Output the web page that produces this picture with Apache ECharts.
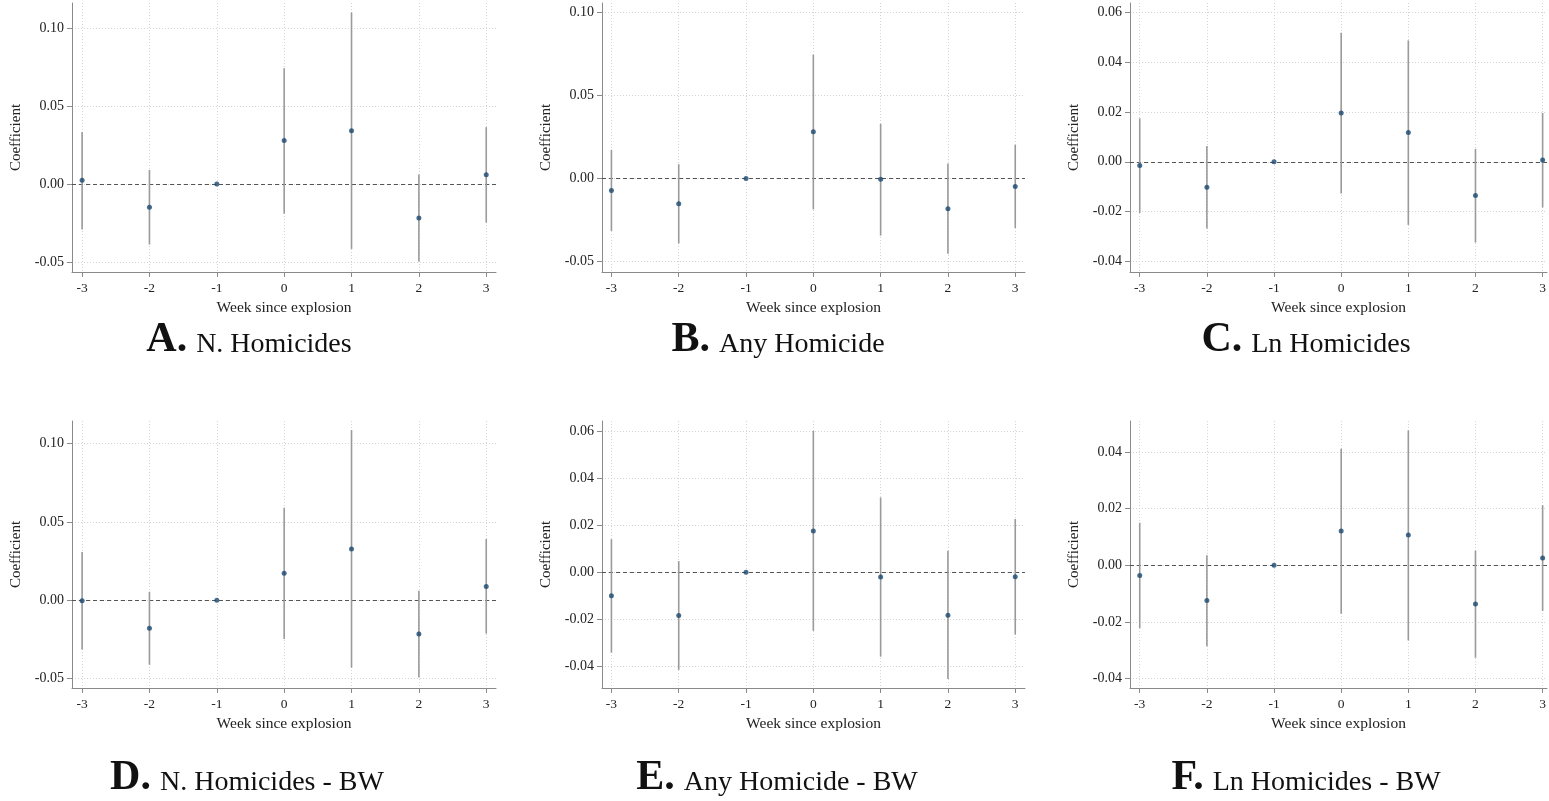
<!DOCTYPE html>
<html>
<head>
<meta charset="utf-8">
<script src="https://cdn.jsdelivr.net/npm/echarts@6/dist/echarts.min.js"></script>
<style>
html,body{margin:0;padding:0;background:#fff;}
#c{width:1549px;height:801px;}
</style>
</head>
<body>
<div id="c"></div>
<script>
// ---- data ----
const weeks = [-3, -2, -1, 0, 1, 2, 3];

const coefA = [0.0024, -0.0148, 0, 0.0279, 0.0341, -0.0217, 0.0060];
const loA   = [-0.0292, -0.0388, 0, -0.0191, -0.0416, -0.0496, -0.0247];
const hiA   = [0.0333, 0.0090, 0, 0.0742, 0.1100, 0.0062, 0.0365];

const coefB = [-0.0072, -0.0151, 0, 0.0281, -0.0004, -0.0181, -0.0048];
const loB   = [-0.0315, -0.0390, 0, -0.0185, -0.0343, -0.0452, -0.0297];
const hiB   = [0.0173, 0.0086, 0, 0.0745, 0.0329, 0.0090, 0.0203];

const coefC = [-0.0015, -0.0102, 0, 0.0196, 0.0118, -0.0135, 0.0007];
const loC   = [-0.0205, -0.0268, 0, -0.0127, -0.0253, -0.0324, -0.0183];
const hiC   = [0.0174, 0.0063, 0, 0.0518, 0.0487, 0.0052, 0.0196];

const coefD = [-0.0002, -0.0178, 0, 0.0173, 0.0327, -0.0214, 0.0089];
const loD   = [-0.0314, -0.0410, 0, -0.0246, -0.0429, -0.0492, -0.0212];
const hiD   = [0.0308, 0.0055, 0, 0.0590, 0.1086, 0.0062, 0.0391];

const coefE = [-0.0100, -0.0184, 0, 0.0175, -0.0021, -0.0183, -0.0020];
const loE   = [-0.0342, -0.0415, 0, -0.0249, -0.0359, -0.0454, -0.0265];
const hiE   = [0.0140, 0.0047, 0, 0.0600, 0.0317, 0.0091, 0.0226];

const coefF = [-0.0036, -0.0124, 0, 0.0121, 0.0107, -0.0137, 0.0026];
const loF   = [-0.0222, -0.0286, 0, -0.0171, -0.0265, -0.0326, -0.0161];
const hiF   = [0.0150, 0.0035, 0, 0.0411, 0.0476, 0.0052, 0.0212];

const yTicksWide = [-0.05, 0, 0.05, 0.10];
const yTicksC = [-0.04, -0.02, 0, 0.02, 0.04, 0.06];
const yTicksE = [-0.04, -0.02, 0, 0.02, 0.04, 0.06];
const yTicksF = [-0.04, -0.02, 0, 0.02, 0.04];

const letters = ['A.', 'B.', 'C.', 'D.', 'E.', 'F.'];
const captions = ['N. Homicides', 'Any Homicide', 'Ln Homicides',
                  'N. Homicides - BW', 'Any Homicide - BW', 'Ln Homicides - BW'];

const xTitle = 'Week since explosion';
const yTitle = 'Coefficient';

// ---- panels ----
const panels = [
  {coef: coefA, lo: loA, hi: hiA, ticks: yTicksWide, ymin: -0.0564, ymax: 0.1161, xmin: -3.15, xmax: 3.145,
   grid: {left: 72, top: 3, width: 424, height: 269}, cap: [249, 361]},
  {coef: coefB, lo: loB, hi: hiB, ticks: yTicksWide, ymin: -0.0562, ymax: 0.1056, xmin: -3.14, xmax: 3.145,
   grid: {left: 602, top: 3, width: 423, height: 269}, cap: [778, 361]},
  {coef: coefC, lo: loC, hi: hiC, ticks: yTicksC, ymin: -0.0442, ymax: 0.0637, xmin: -3.145, xmax: 3.065,
   grid: {left: 1130, top: 3, width: 418, height: 269}, cap: [1306, 361]},
  {coef: coefD, lo: loD, hi: hiD, ticks: yTicksWide, ymin: -0.0559, ymax: 0.1144, xmin: -3.15, xmax: 3.145,
   grid: {left: 72, top: 421, width: 424, height: 267}, cap: [247, 799]},
  {coef: coefE, lo: loE, hi: hiE, ticks: yTicksE, ymin: -0.0492, ymax: 0.0642, xmin: -3.14, xmax: 3.145,
   grid: {left: 602, top: 421, width: 423, height: 267}, cap: [777, 799]},
  {coef: coefF, lo: loF, hi: hiF, ticks: yTicksF, ymin: -0.0433, ymax: 0.0509, xmin: -3.145, xmax: 3.065,
   grid: {left: 1130, top: 421, width: 418, height: 267}, cap: [1306, 799]}
];

const FONT = '"Liberation Serif", "Times New Roman", serif';
const axisGray = '#8a8a8a';

const grids = [], xAxes = [], yAxes = [], series = [], graphics = [];

panels.forEach((p, i) => {
  grids.push(Object.assign({containLabel: false}, p.grid));
  xAxes.push({
    type: 'value', gridIndex: i, min: p.xmin, max: p.xmax,
    name: xTitle, nameLocation: 'middle', nameGap: 28,
    nameTextStyle: {fontFamily: FONT, fontSize: 15.5, color: '#222'},
    axisLine: {show: true, onZero: false, lineStyle: {color: axisGray, width: 1}},
    axisTick: {show: true, length: 5, customValues: weeks, lineStyle: {color: axisGray}},
    axisLabel: {customValues: weeks, margin: 9, fontFamily: FONT, fontSize: 13.5, color: '#222',
                formatter: v => String(v)},
    splitLine: {show: true, lineStyle: {color: '#d4d4d4', type: [1, 2], width: 1}}
  });
  yAxes.push({
    type: 'value', gridIndex: i, min: p.ymin, max: p.ymax,
    name: yTitle, nameLocation: 'middle', nameGap: 48, nameRotate: 90,
    nameTextStyle: {fontFamily: FONT, fontSize: 15, color: '#222'},
    axisLine: {show: true, onZero: false, lineStyle: {color: axisGray, width: 1}},
    axisTick: {show: true, length: 5, customValues: p.ticks, lineStyle: {color: axisGray}},
    axisLabel: {customValues: p.ticks, margin: 8, fontFamily: FONT, fontSize: 14, color: '#222',
                formatter: v => v.toFixed(2)},
    splitLine: {show: true, lineStyle: {color: '#d4d4d4', type: [1, 2], width: 1}}
  });
  series.push({
    type: 'custom', xAxisIndex: i, yAxisIndex: i, z: 3,
    data: weeks.map((w, k) => [w, p.lo[k], p.hi[k]]),
    encode: {x: 0, y: [1, 2]},
    renderItem: (params, api) => {
      const a = api.coord([api.value(0), api.value(1)]);
      const b = api.coord([api.value(0), api.value(2)]);
      return {type: 'line', shape: {x1: a[0], y1: a[1], x2: b[0], y2: b[1]},
              style: {stroke: '#9a9a9a', lineWidth: 1.6}};
    },
    silent: true
  });
  series.push({
    type: 'scatter', xAxisIndex: i, yAxisIndex: i, z: 5,
    data: weeks.map((w, k) => [w, p.coef[k]]),
    symbol: 'circle', symbolSize: 5,
    itemStyle: {color: '#1a476f'},
    silent: true,
    markLine: {
      silent: true, symbol: 'none', z: 2,
      label: {show: false},
      lineStyle: {color: '#555', type: [4, 3], width: 1},
      data: [{yAxis: 0}]
    }
  });
  graphics.push({
    type: 'text', x: p.cap[0], y: p.cap[1],
    style: {
      text: '{b|' + letters[i] + '}{r|' + captions[i] + '}',
      align: 'center', verticalAlign: 'bottom',
      rich: {
        b: {fontFamily: FONT, fontSize: 42, fontWeight: 'bold', fill: '#111', verticalAlign: 'bottom',
            padding: [0, 9, 0, 0]},
        r: {fontFamily: FONT, fontSize: 28, fill: '#111', verticalAlign: 'bottom', padding: [0, 0, 2, 0]}
      }
    }
  });
});

const chart = echarts.init(document.getElementById('c'), null, {renderer: 'canvas'});
chart.setOption({
  animation: false,
  backgroundColor: '#fff',
  grid: grids, xAxis: xAxes, yAxis: yAxes, series: series,
  graphic: graphics
});
</script>
</body>
</html>
